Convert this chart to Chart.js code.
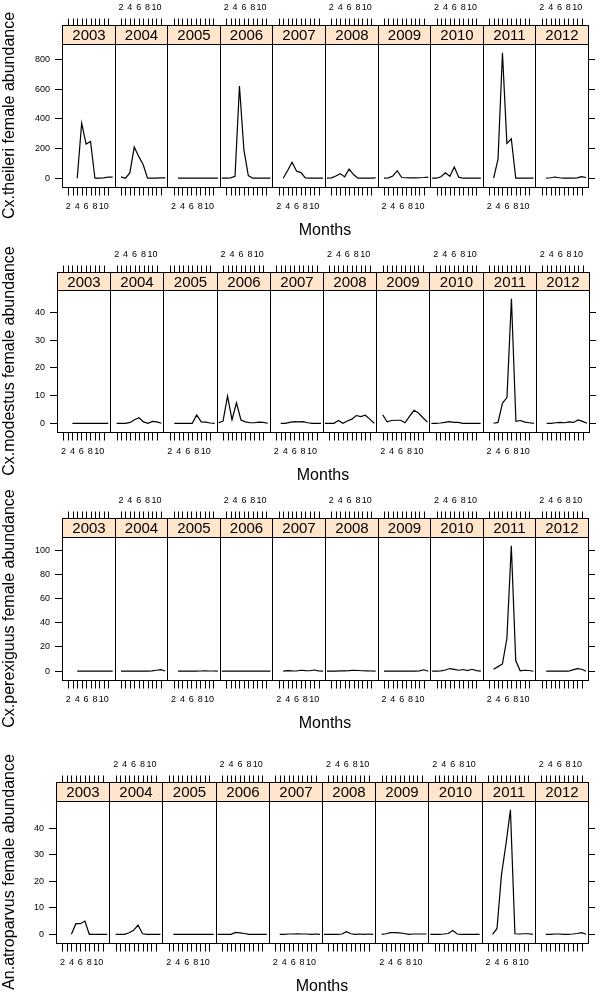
<!DOCTYPE html>
<html lang="en">
<head>
<meta charset="UTF-8">
<title>Female abundance by month and year</title>
<script src="https://cdn.jsdelivr.net/npm/chart.js"></script>
<style>
  body { margin: 0; background: #fff; }
  .lattice { position: relative; width: 600px; height: 996px; }
  .lattice canvas { position: absolute; left: 0; top: 0; }
</style>
</head>
<body>

<div class="lattice">
  <canvas id="chartTheileri" width="600" height="996"></canvas>
  <canvas id="chartModestus" width="600" height="996"></canvas>
  <canvas id="chartPerexiguus" width="600" height="996"></canvas>
  <canvas id="chartAtroparvus" width="600" height="996"></canvas>
</div>

<script>
// panels and axes
const years = ['2003', '2004', '2005', '2006', '2007', '2008', '2009', '2010', '2011', '2012'];
const months = [1, 2, 3, 4, 5, 6, 7, 8, 9, 10, 11, 12];
const monthTickMarks = [2, 3, 4, 5, 6, 7, 8, 9, 10, 11];
const monthTickLabels = [2, 4, 6, 8, 10];
const xTitle = 'Months';

// monthly values, one row per year (null = no sample that month)
const theileri = [
    [null, null, null, 0, 371, 230, 248, 0, 0, 2, 8, 8],
    [null, 9, 0, 36, 210, 147, 92, 0, 0, 0, 2, 2],
    [null, null, 0, 0, 0, 0, 0, 0, 0, 0, 0, 0],
    [0, 0, 2, 13, 621, 192, 18, 0, 0, 0, 0, 0],
    [null, null, 0, 52, 108, 48, 38, 2, 0, 0, 0, 0],
    [0, 2, 15, 31, 9, 62, 25, 0, 0, 0, 1, 2],
    [null, 0, 2, 15, 51, 5, 3, 2, 2, 3, 5, 8],
    [0, 0, 10, 36, 13, 76, 7, 0, 0, 0, 0, 0],
    [null, null, 0, 128, 845, 235, 265, 0, 0, 0, 0, 0],
    [null, null, 0, 3, 8, 3, 1, 0, 0, 2, 10, 5]
];
const modestus = [
    [null, null, null, 0, 0, 0, 0, 0, 0, 0, 0, 0],
    [null, 0, 0, 0, 0.3, 1.3, 2, 0.5, 0, 0.7, 0.5, 0],
    [null, null, 0, 0, 0, 0, 0, 3, 0.5, 0.4, 0.1, 0],
    [0.2, 0.8, 9.8, 1.3, 7.4, 1.2, 0.5, 0.2, 0.2, 0.4, 0.3, 0],
    [null, null, 0, 0, 0.3, 0.6, 0.5, 0.6, 0.2, 0, 0, 0],
    [0, 0, 0, 1, 0, 0.8, 1.5, 2.8, 2.4, 2.9, 1.5, 0],
    [null, 3.1, 0.5, 1, 1.1, 1.1, 0.2, 2.5, 4.7, 3.7, 2, 0.4],
    [0, 0, 0.1, 0.3, 0.6, 0.3, 0.3, 0, 0, 0, 0, 0],
    [null, null, 0, 0.3, 7.3, 9.3, 45, 0.7, 1, 0.4, 0.2, 0],
    [null, null, 0, 0, 0.2, 0.3, 0.2, 0.5, 0.3, 1.2, 0.7, 0]
];
const perexiguus = [
    [null, null, null, 0, 0, 0, 0, 0, 0, 0, 0, 0],
    [null, 0, 0, 0, 0, 0, 0, 0, 0.3, 0.8, 1.3, 0.2],
    [null, null, 0, 0, 0, 0, 0, 0.2, 0.3, 0.2, 0.2, 0],
    [0, 0, 0, 0, 0, 0, 0, 0, 0, 0, 0, 0],
    [null, null, 0, 0.5, 0.3, 0.2, 0.8, 0.5, 0.4, 1, 0.3, 0],
    [0, 0, 0, 0.3, 0.3, 0.5, 0.8, 0.6, 0.4, 0.3, 0.2, 0],
    [null, 0, 0, 0, 0, 0, 0, 0, 0, 0.3, 1.2, 0],
    [0, 0, 0.3, 1, 2.2, 1.5, 0.8, 1.4, 0.5, 1.6, 0.5, 0],
    [null, null, 1.6, 3.8, 6, 27, 103.5, 8.8, 0.3, 0.8, 0.6, 0],
    [null, null, 0, 0, 0, 0, 0, 0, 1.1, 2.2, 1.6, 0]
];
const atroparvus = [
    [null, null, null, 0, 4, 4, 5, 0, 0, 0, 0, 0],
    [null, 0, 0, 0, 0.6, 1.5, 3.5, 0.2, 0, 0, 0, 0],
    [null, null, 0, 0, 0, 0, 0, 0, 0, 0, 0, 0],
    [0, 0, 0, 0, 0.7, 0.5, 0.3, 0, 0, 0, 0, 0],
    [null, null, 0, 0, 0.1, 0.1, 0.2, 0.1, 0.1, 0, 0.1, 0],
    [0, 0, 0, 0, 0.1, 1, 0.2, 0, 0.1, 0, 0.1, 0],
    [null, 0, 0.2, 0.6, 0.6, 0.5, 0.3, 0, 0.1, 0.1, 0.1, 0.1],
    [0, 0, 0, 0.1, 0.3, 1.4, 0.1, 0, 0, 0, 0, 0],
    [null, null, 0, 2.2, 22.5, 34, 47, 0.2, 0.1, 0.2, 0.2, 0],
    [null, null, 0, 0, 0.1, 0.1, 0, 0, 0.1, 0.3, 0.6, 0]
];

// y tick labels for each species
const ticksTheileri = [0, 200, 400, 600, 800];
const ticksModestus = [0, 10, 20, 30, 40];
const ticksPerexiguus = [0, 20, 40, 60, 80, 100];
const ticksAtroparvus = [0, 10, 20, 30, 40];

// page layout (pixels) for every row of panels
const rows = [
    { canvas: 'chartTheileri', title: 'Cx.theileri female abundance', values: theileri, ticks: ticksTheileri,
      left: 62, right: 588, stripTop: 25, top: 44, bottom: 187 },
    { canvas: 'chartModestus', title: 'Cx.modestus female abundance', values: modestus, ticks: ticksModestus,
      left: 57, right: 589, stripTop: 272, top: 290, bottom: 432 },
    { canvas: 'chartPerexiguus', title: 'Cx.perexiguus female abundance', values: perexiguus, ticks: ticksPerexiguus,
      left: 62, right: 588, stripTop: 518, top: 537, bottom: 680 },
    { canvas: 'chartAtroparvus', title: 'An.atroparvus female abundance', values: atroparvus, ticks: ticksAtroparvus,
      left: 56, right: 588, stripTop: 782, top: 801, bottom: 943 }
];

const FONT = "'Liberation Sans', Arial, Helvetica, sans-serif";
const X0 = 0.56;            // month at the left edge of a panel
const PW = 12.44 - X0;      // months per panel
const PAGE_H = 996;

function crisp(v) { return Math.round(v) + 0.5; }

// strips, panel boxes and month axes, placed with the chart's x scale
const latticePlugin = {
    id: 'lattice',
    afterDraw(chart, args, opts) {
        const row = opts.row;
        const ctx = chart.ctx;
        const a = chart.chartArea;
        const x = chart.scales.x;

        ctx.save();
        ctx.lineWidth = 1;
        ctx.strokeStyle = '#000';

        years.forEach(function (year, i) {
            const l = crisp(x.getPixelForValue(i * PW));
            const r = crisp(x.getPixelForValue((i + 1) * PW));
            const st = crisp(row.stripTop);
            const t = crisp(a.top);
            const b = crisp(a.bottom);

            // strip
            ctx.fillStyle = '#ffe5cc';
            ctx.fillRect(l, st, r - l, t - st);
            ctx.strokeRect(l, st, r - l, t - st);
            ctx.fillStyle = '#000';
            ctx.font = '15px ' + FONT;
            ctx.textAlign = 'center';
            ctx.textBaseline = 'middle';
            ctx.fillText(year, (l + r) / 2, (st + t) / 2 + 1);

            // panel box
            ctx.strokeRect(l, t, r - l, b - t);

            // tick marks top and bottom
            ctx.beginPath();
            monthTickMarks.forEach(function (m) {
                const px = crisp(x.getPixelForValue(i * PW + m - X0));
                ctx.moveTo(px, b);
                ctx.lineTo(px, b + 8);
                ctx.moveTo(px, st - 7);
                ctx.lineTo(px, st);
            });
            ctx.stroke();

            // tick labels alternate bottom / top
            ctx.font = '9px ' + FONT;
            monthTickLabels.forEach(function (m) {
                const px = x.getPixelForValue(i * PW + m - X0);
                if (i % 2 === 0) {
                    ctx.fillText(String(m), px, b + 19);
                } else {
                    ctx.fillText(String(m), px, st - 18);
                }
            });
        });

        ctx.font = '16px ' + FONT;
        ctx.fillText(xTitle, (a.left + a.right) / 2, a.bottom + 44);
        ctx.restore();
    }
};

rows.forEach(function (row) {
    const peak = Math.max(...row.values.flat().filter(v => v !== null));
    const yMin = -0.07 * peak;
    const yMax = 1.07 * peak;

    const datasets = row.values.map(function (serie, i) {
        const pts = [];
        serie.forEach(function (v, k) {
            if (v !== null) pts.push({ x: i * PW + months[k] - X0, y: v });
        });
        return {
            label: years[i],
            data: pts,
            borderColor: '#000',
            borderWidth: 1.2,
            pointRadius: 0,
            tension: 0,
            fill: false
        };
    });

    const setTicks = function (axis) {
        axis.ticks = row.ticks.map(v => ({ value: v }));
    };

    new Chart(document.getElementById(row.canvas), {
        type: 'line',
        data: { datasets: datasets },
        plugins: [latticePlugin],
        options: {
            responsive: false,
            animation: false,
            devicePixelRatio: 1,
            layout: { padding: { top: row.top, bottom: PAGE_H - row.bottom, left: 0, right: 0 } },
            plugins: {
                legend: { display: false },
                tooltip: { enabled: false },
                lattice: { row: row }
            },
            scales: {
                x: { type: 'linear', display: false, min: 0, max: years.length * PW },
                y: {
                    position: 'left',
                    min: yMin,
                    max: yMax,
                    afterBuildTicks: setTicks,
                    afterFit: function (axis) { axis.width = row.left; },
                    border: { display: false },
                    grid: { drawOnChartArea: false, tickLength: 7, color: '#000', lineWidth: 1 },
                    ticks: { color: '#000', padding: 5, font: { size: 9, family: FONT }, callback: v => String(v) },
                    title: { display: true, text: row.title, color: '#000', padding: { top: 0, bottom: 0 }, font: { size: 16, family: FONT } }
                },
                y2: {
                    position: 'right',
                    min: yMin,
                    max: yMax,
                    afterBuildTicks: setTicks,
                    afterFit: function (axis) { axis.width = 600 - row.right; },
                    border: { display: false },
                    grid: { drawOnChartArea: false, tickLength: 7, color: '#000', lineWidth: 1 },
                    ticks: { display: false }
                }
            }
        }
    });
});
</script>
</body>
</html>
